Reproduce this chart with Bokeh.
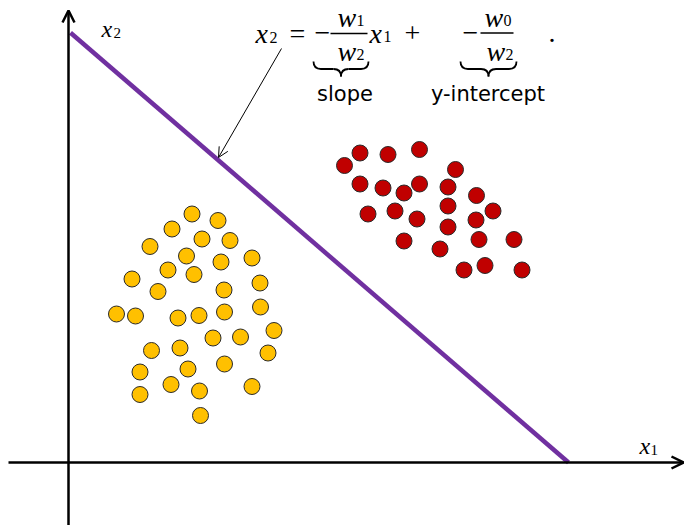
from bokeh.plotting import figure
from bokeh.models import Range1d, Arrow, OpenHead
from bokeh.core.properties import value
from bokeh.embed import file_html
from bokeh.resources import INLINE

# Class A samples (yellow)
yellow_x1 = [2.47, 2.99, 2.07, 2.67, 3.23, 1.63, 2.36, 3.05, 3.67, 1.99, 2.51, 1.27,
             3.83, 1.79, 3.11, 0.96, 1.34, 2.19, 2.61, 3.12, 3.84, 4.11, 2.89, 3.44,
             1.66, 2.23, 3.99, 1.43, 2.39, 3.12, 2.05, 1.43, 2.62, 3.67, 2.64]
yellow_x2 = [4.97, 4.84, 4.67, 4.47, 4.44, 4.32, 4.13, 4.01, 4.09, 3.85, 3.76, 3.67,
             3.59, 3.42, 3.45, 2.97, 2.93, 2.89, 2.94, 3.01, 3.11, 2.64, 2.49, 2.51,
             2.24, 2.29, 2.19, 1.81, 1.87, 1.97, 1.56, 1.36, 1.43, 1.52, 0.94]

# Class B samples (red)
red_x1 = [5.52, 5.83, 6.39, 7.02, 7.74, 5.83, 6.29, 6.71, 7.02, 7.59, 8.16, 5.99,
          6.53, 6.97, 7.59, 8.49, 8.15, 7.59, 6.71, 7.43, 8.21, 8.91, 7.91, 8.33, 9.07]
red_x2 = [5.94, 6.19, 6.16, 6.26, 5.86, 5.57, 5.49, 5.39, 5.57, 5.51, 5.34, 4.97,
          5.03, 4.87, 5.13, 5.03, 4.85, 4.71, 4.43, 4.27, 4.46, 4.46, 3.85, 3.94, 3.85]

# Decision boundary: w0 + w1*x1 + w2*x2 = 0
w0, w1, w2 = -8.63, 0.863, 1.0

p = figure(width=684, height=525,
           x_range=Range1d(-1.36, 12.32), y_range=Range1d(-1.26, 9.24),
           output_backend="svg", toolbar_location=None, min_border=0,
           x_axis_location=None, y_axis_location=None,
           outline_line_color=None, background_fill_color="white",
           border_fill_color="white")
p.grid.visible = False

# coordinate axes with arrow heads
p.add_layout(Arrow(end=OpenHead(size=12, line_width=2.5, line_color="black"),
                   x_start=-1.2, y_start=0, x_end=12.3, y_end=0,
                   line_width=2.5, line_color="black"))
p.add_layout(Arrow(end=OpenHead(size=12, line_width=2.5, line_color="black"),
                   x_start=0, y_start=-1.26, x_end=0, y_end=9.04,
                   line_width=2.5, line_color="black"))

# boundary line between the axes
bx = [0.04, -w0 / w1]
by = [-(w1 / w2) * x - w0 / w2 for x in bx]
p.line(bx, by, line_width=4.5, line_color="#7030A0")

p.scatter(yellow_x1, yellow_x2, size=16, fill_color="#FFC000",
          line_color="#2a2a2a", line_width=1)
p.scatter(red_x1, red_x2, size=16, fill_color="#C00000",
          line_color="#2a2a2a", line_width=1)

serif = value("Liberation Serif")
sans = value("DejaVu Sans")


def txt(xs, ys, texts, size, style="normal", font=serif, align="left"):
    p.text(x=xs, y=ys, text=texts, text_font=font, text_font_size=size,
           text_font_style=style, text_align=align, text_baseline="alphabetic",
           text_color="black")


# axis labels
txt([0.66, 11.42], [8.68, 0.34], ["x", "x"], "24px", "italic")
txt([0.90, 11.64], [8.60, 0.26], ["2", "1"], "15px")

# equation of the boundary
txt([3.74, 5.38, 5.38, 6.02, 8.32, 8.36], [8.59, 8.90, 8.22, 8.59, 8.90, 8.22],
    ["x", "w", "w", "x", "w", "w"], "28px", "italic")
txt([4.02, 5.76, 5.76, 6.30, 8.70, 8.74], [8.50, 8.85, 8.16, 8.52, 8.85, 8.16],
    ["2", "1", "2", "1", "0", "2"], "16px")
txt([4.42, 4.92, 6.72, 7.88, 9.60], [8.59, 8.59, 8.59, 8.59, 8.59],
    ["=", "\u2212", "+", "\u2212", "."], "28px")
p.segment(x0=[5.24, 8.24], y0=[8.58, 8.59], x1=[5.98, 8.90], y1=[8.58, 8.59],
          line_width=1.3, line_color="black")


def underbrace(xl, xr, top, depth, r):
    xc = (xl + xr) / 2
    mid = top - depth / 2
    tip = top - depth
    p.quadratic(x0=[xl, xr], y0=[top, top], x1=[xl + r, xr - r], y1=[mid, mid],
                cx=[xl, xr], cy=[mid, mid], line_width=1.8, line_color="black")
    p.segment(x0=[xl + r, xc + r], y0=[mid, mid], x1=[xc - r, xr - r], y1=[mid, mid],
              line_width=1.8, line_color="black")
    p.quadratic(x0=[xc - r, xc + r], y0=[mid, mid], x1=[xc, xc], y1=[tip, tip],
                cx=[xc, xc], cy=[mid, mid], line_width=1.8, line_color="black")


underbrace(4.90, 6.00, 8.02, 0.30, 0.15)
underbrace(7.84, 8.96, 8.02, 0.30, 0.15)

txt([5.53, 8.39], [7.38, 7.38], ["slope", "y-intercept"], "21px",
    font=sans, align="center")

# pointer from the equation to the line
p.add_layout(Arrow(end=OpenHead(size=10, line_width=1, line_color="black"),
                   x_start=4.26, y_start=8.28, x_end=3.0, y_end=6.10,
                   line_width=1, line_color="black"))

open("out.html", "w").write(file_html(p, INLINE))
